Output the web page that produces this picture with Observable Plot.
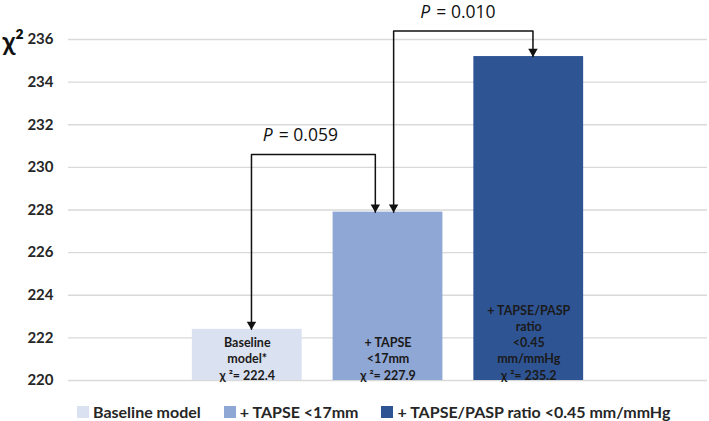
<!DOCTYPE html>
<html>
<head>
<meta charset="utf-8">
<script src="https://cdn.jsdelivr.net/npm/d3@7"></script>
<script src="https://cdn.jsdelivr.net/npm/@observablehq/plot@0.6"></script>
<style>
  body { margin: 0; background: #fff; }
  #chart { width: 709px; }
  .lg-swatches-wrap { padding-left: 77px; min-height: 33px !important; margin: 0 !important; }
  .lg-swatches-wrap .lg-swatch { margin-right: 23px !important; }
  .lg-swatch > svg { margin-right: 4px !important; }
</style>
</head>
<body>
<div id="chart"></div>
<script>
// ---- data ----
const categories = ["Baseline model", "+ TAPSE <17mm", "+ TAPSE/PASP ratio <0.45 mm/mmHg"];
const positions = [1, 2, 3];
const chi2 = [222.4, 227.9, 235.2];
const colors = ["#dae1f0", "#8fa7d5", "#2f5493"];
const barLabels = ["Baseline\nmodel*\nχ ²= 222.4", "+ TAPSE\n<17mm\nχ ²= 227.9", "+ TAPSE/PASP\nratio\n<0.45\nmm/mmHg\nχ ²= 235.2"];
const yTicks = [220, 222, 224, 226, 228, 230, 232, 234, 236];

// comparisons (brackets)
const pValues = ["0.059", "0.010"];
const bracketFrom = [0, 1];
const bracketTo = [1, 2];
const bracketTop = [230.6, 236.4];
const bracketXFrom = [1.03, 2.04];
const bracketXTo = [1.91, 3.03];
const pLabelX = [1.11, 2.23];
const pLabelY = [231.5, 237.25];

// ---- build tables ----
const bars = categories.map((c, i) => ({category: c, pos: positions[i], chi2: chi2[i], label: barLabels[i]}));
const linePts = [];
const heads = [];
const pData = [];
pValues.forEach((p, k) => {
  const yA = chi2[bracketFrom[k]], yB = chi2[bracketTo[k]];
  linePts.push({id: k, x: bracketXFrom[k], y: yA});
  linePts.push({id: k, x: bracketXFrom[k], y: bracketTop[k]});
  linePts.push({id: k, x: bracketXTo[k], y: bracketTop[k]});
  linePts.push({id: k, x: bracketXTo[k], y: yB});
  heads.push({x: bracketXFrom[k], y: yA});
  heads.push({x: bracketXTo[k], y: yB});
  pData.push({x: pLabelX[k], y: pLabelY[k], p});
});

const font = "Lato, 'Open Sans', sans-serif";

const plot = Plot.plot({
  width: 709,
  height: 395,
  marginLeft: 68,
  marginRight: 2,
  marginTop: 39,
  marginBottom: 15,
  style: {fontFamily: font, background: "#fff", overflow: "visible"},
  x: {type: "linear", domain: [-0.27, 4.27], axis: null},
  y: {domain: [220, 236], axis: null},
  color: {type: "ordinal", domain: categories, range: colors},
  marks: [
    Plot.gridY(yTicks, {stroke: "#d9d9d9", strokeOpacity: 1, strokeWidth: 1.3}),
    Plot.axisY(yTicks, {tickSize: 0, tickPadding: 15, fontSize: 15, fontWeight: "bold", fill: "#262626", label: null}),
    Plot.rectY(bars, {x1: d => d.pos - 0.39, x2: d => d.pos + 0.39, y1: 220, y2: "chi2", fill: "category"}),
    Plot.text(bars, {x: "pos", y: 220, text: "label", lineAnchor: "bottom", lineHeight: 1.3, dy: -1, fontSize: 12.5, fontWeight: "bold", fill: "#1a1a1a"}),
    Plot.line(linePts, {x: "x", y: "y", z: "id", stroke: "#111", strokeWidth: 1.5, curve: "linear"}),
    Plot.dot(heads, {x: "x", y: "y", symbol: "triangle", rotate: 180, r: 3.5, fill: "#111", stroke: "none", dy: -5}),
    Plot.text(pData, {x: "x", y: "y", text: () => "P", fontStyle: "italic", textAnchor: "start", lineAnchor: "middle", fontSize: 17.5, fontFamily: "'Open Sans', sans-serif", fill: "#111"}),
    Plot.text(pData, {x: "x", y: "y", text: d => "= " + d.p, textAnchor: "start", lineAnchor: "middle", dx: 16, fontSize: 17.5, fontFamily: "'Open Sans', sans-serif", fill: "#111"}),
    Plot.text(["χ²"], {frameAnchor: "top-left", dx: -66, dy: 3, textAnchor: "start", lineAnchor: "middle", fontSize: 26, fontWeight: "bold", fill: "#111"})
  ]
});

document.getElementById("chart").appendChild(plot);
const legend = plot.legend("color", {
  className: "lg",
  swatchSize: 12,
  style: {fontFamily: font, fontSize: "16px", fontWeight: "bold", color: "#262626"}
});
document.getElementById("chart").appendChild(legend);
</script>
</body>
</html>
